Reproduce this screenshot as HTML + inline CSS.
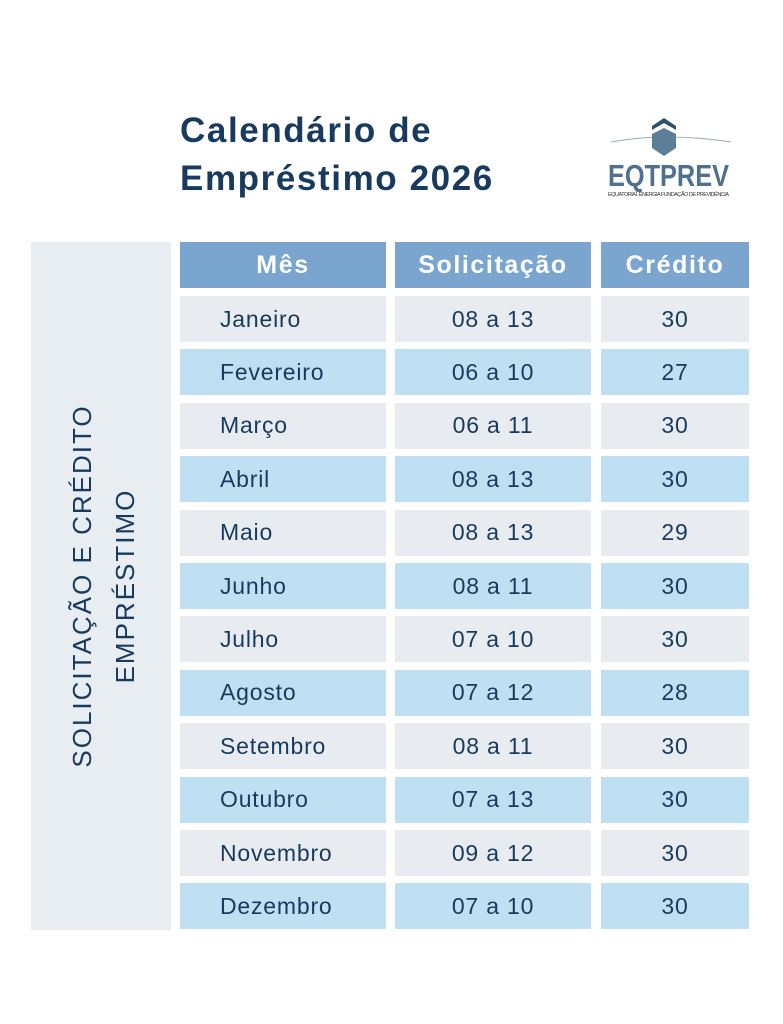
<!DOCTYPE html>
<html><head><meta charset="utf-8"><style>
body{margin:0;width:783px;height:1024px;background:#fff;position:relative;font-family:"Liberation Sans",sans-serif;overflow:hidden}
.t{position:absolute;left:180px;color:#173a5e;font-weight:bold;font-size:35px;letter-spacing:1.6px;line-height:47px}
.side{position:absolute;left:31px;top:242px;width:140px;height:688px;background:#e8edf1}
.vt{position:absolute;left:104px;top:586px;transform:translate(-50%,-50%) rotate(-90deg);white-space:nowrap;text-align:center;color:#173a5e;font-size:26px;letter-spacing:2px;line-height:43px}
.c{position:absolute;display:flex;align-items:center;color:#173a5e;font-size:23px;letter-spacing:0.8px;height:46px}
.h{background:#7aa5cf;color:#fff;font-weight:bold;font-size:25px;letter-spacing:1.6px;justify-content:center}
</style></head><body>
<div class="t" style="top:107px">Calendário de</div>
<div class="t" style="top:155px">Empréstimo 2026</div>
<svg style="position:absolute;left:606px;top:114px" width="130" height="86">
<path d="M5 28 Q60 18 125 28" stroke="#9aa9b8" stroke-width="1" fill="none"/>
<path d="M46 12 L58 4 L70 12 L70 16 L58 9 L46 16Z" fill="#2d5170"/>
<path d="M46 20 L58 14 L70 20 L70 34 L58 42 L46 34Z" fill="#5d7e98"/>
<text x="2" y="72" font-family="Liberation Sans" font-weight="bold" font-size="31" fill="#4f7190" textLength="121" lengthAdjust="spacingAndGlyphs">EQTPREV</text>
<text x="2" y="82" font-family="Liberation Sans" font-size="5.5" fill="#333" textLength="121">EQUATORIAL ENERGIA FUNDAÇÃO DE PREVIDÊNCIA</text>
</svg>
<div class="side"></div>
<div class="vt">SOLICITAÇÃO E CRÉDITO<br>EMPRÉSTIMO</div>
<div class="c h" style="left:180px;top:242px;width:206px">Mês</div>
<div class="c h" style="left:395px;top:242px;width:196px">Solicitação</div>
<div class="c h" style="left:601px;top:242px;width:148px">Crédito</div>
<div id="rows"></div>
<script>
var d=[["Janeiro","08 a 13","30"],["Fevereiro","06 a 10","27"],["Março","06 a 11","30"],["Abril","08 a 13","30"],["Maio","08 a 13","29"],["Junho","08 a 11","30"],["Julho","07 a 10","30"],["Agosto","07 a 12","28"],["Setembro","08 a 11","30"],["Outubro","07 a 13","30"],["Novembro","09 a 12","30"],["Dezembro","07 a 10","30"]];
var h="";d.forEach(function(r,i){var t=296+i*53.4,b=i%2?"#bfe0f2":"#e8ecf0";
h+='<div class="c" style="left:180px;top:'+t+'px;width:166px;padding-left:40px;background:'+b+'">'+r[0]+'</div>';
h+='<div class="c" style="left:395px;top:'+t+'px;width:196px;justify-content:center;background:'+b+'">'+r[1]+'</div>';
h+='<div class="c" style="left:601px;top:'+t+'px;width:148px;justify-content:center;background:'+b+'">'+r[2]+'</div>';});
document.getElementById("rows").innerHTML=h;
</script>
</body></html>
